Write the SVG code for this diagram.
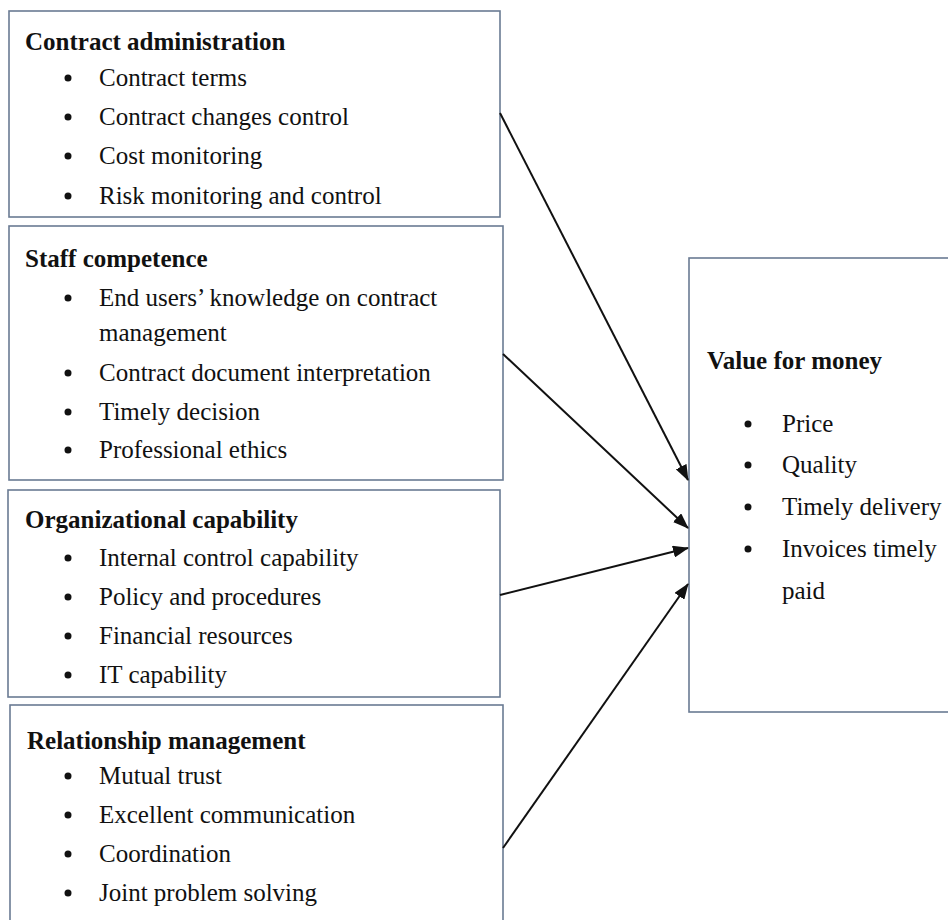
<svg xmlns="http://www.w3.org/2000/svg" width="948" height="920" viewBox="0 0 948 920">
<defs>
<style>
.box{fill:#fff;stroke:#6a7b93;stroke-width:1.6}
.h{font-family:"Liberation Serif","Times New Roman",serif;font-weight:bold;font-size:25px;fill:#111}
.t{font-family:"Liberation Serif","Times New Roman",serif;font-size:25px;fill:#111}
.b{fill:#111}
.c{stroke:#111;stroke-width:2;fill:none;marker-end:url(#ah)}
</style>
<marker id="ah" markerWidth="16" markerHeight="12" refX="15" refY="6" orient="auto" markerUnits="userSpaceOnUse">
<path d="M0,0 L16,6 L0,12 Z" fill="#111"/>
</marker>
</defs>
<rect width="948" height="920" fill="#fff"/>

<g id="contract-administration">
<rect class="box" x="9" y="11" width="491" height="206"/>
<text class="h" x="25" y="50">Contract administration</text>
<circle class="b" cx="68" cy="78" r="3.5"/><text class="t" x="99" y="86">Contract terms</text>
<circle class="b" cx="68" cy="117" r="3.5"/><text class="t" x="99" y="125">Contract changes control</text>
<circle class="b" cx="68" cy="156" r="3.5"/><text class="t" x="99" y="164">Cost monitoring</text>
<circle class="b" cx="68" cy="196" r="3.5"/><text class="t" x="99" y="204">Risk monitoring and control</text>
</g>

<g id="staff-competence">
<rect class="box" x="9" y="226" width="494" height="254"/>
<text class="h" x="25" y="267">Staff competence</text>
<circle class="b" cx="68" cy="298" r="3.5"/><text class="t" x="99" y="306">End users’ knowledge on contract</text>
<text class="t" x="99" y="341">management</text>
<circle class="b" cx="68" cy="373" r="3.5"/><text class="t" x="99" y="381">Contract document interpretation</text>
<circle class="b" cx="68" cy="412" r="3.5"/><text class="t" x="99" y="420">Timely decision</text>
<circle class="b" cx="68" cy="450" r="3.5"/><text class="t" x="99" y="458">Professional ethics</text>
</g>

<g id="organizational-capability">
<rect class="box" x="8" y="490" width="492" height="207"/>
<text class="h" x="25" y="528">Organizational capability</text>
<circle class="b" cx="68" cy="558" r="3.5"/><text class="t" x="99" y="566">Internal control capability</text>
<circle class="b" cx="68" cy="597" r="3.5"/><text class="t" x="99" y="605">Policy and procedures</text>
<circle class="b" cx="68" cy="636" r="3.5"/><text class="t" x="99" y="644">Financial resources</text>
<circle class="b" cx="68" cy="675" r="3.5"/><text class="t" x="99" y="683">IT capability</text>
</g>

<g id="relationship-management">
<rect class="box" x="10" y="705" width="493" height="240"/>
<text class="h" x="27" y="749">Relationship management</text>
<circle class="b" cx="68" cy="776" r="3.5"/><text class="t" x="99" y="784">Mutual trust</text>
<circle class="b" cx="68" cy="815" r="3.5"/><text class="t" x="99" y="823">Excellent communication</text>
<circle class="b" cx="68" cy="854" r="3.5"/><text class="t" x="99" y="862">Coordination</text>
<circle class="b" cx="68" cy="893" r="3.5"/><text class="t" x="99" y="901">Joint problem solving</text>
</g>

<g id="value-for-money">
<rect class="box" x="689" y="258" width="280" height="454"/>
<text class="h" x="707" y="369">Value for money</text>
<circle class="b" cx="748" cy="424" r="3.5"/><text class="t" x="782" y="432">Price</text>
<circle class="b" cx="748" cy="465" r="3.5"/><text class="t" x="782" y="473">Quality</text>
<circle class="b" cx="748" cy="507" r="3.5"/><text class="t" x="782" y="515">Timely delivery</text>
<circle class="b" cx="748" cy="549" r="3.5"/><text class="t" x="782" y="557">Invoices timely</text>
<text class="t" x="782" y="599">paid</text>
</g>

<g id="connectors">
<line class="c" x1="500" y1="113" x2="688" y2="480"/>
<line class="c" x1="503" y1="354" x2="688" y2="528"/>
<line class="c" x1="500" y1="595" x2="688" y2="548"/>
<line class="c" x1="503" y1="848" x2="688" y2="584"/>
</g>
</svg>
